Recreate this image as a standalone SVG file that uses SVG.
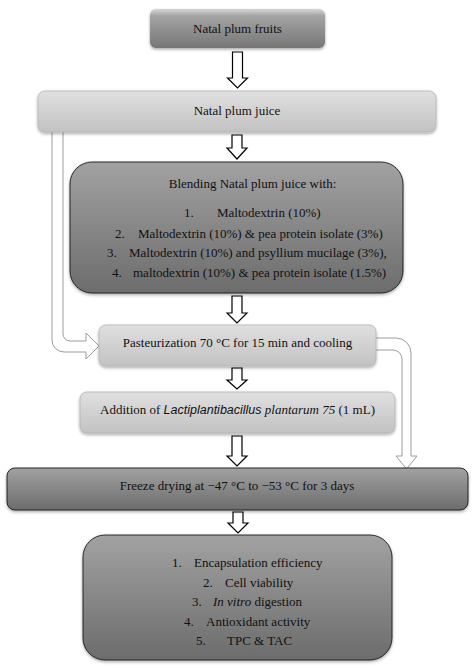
<svg xmlns="http://www.w3.org/2000/svg" width="474" height="668" viewBox="0 0 474 668">
<defs>
<linearGradient id="gTop" x1="0" y1="0" x2="0" y2="1">
<stop offset="0" stop-color="#d6d6d6"/><stop offset="0.18" stop-color="#a4a4a4"/><stop offset="1" stop-color="#767676"/>
</linearGradient>
<linearGradient id="gLight" x1="0" y1="0" x2="0" y2="1">
<stop offset="0" stop-color="#e0e0e0"/><stop offset="1" stop-color="#c2c2c2"/>
</linearGradient>
<linearGradient id="gDark" x1="0" y1="0" x2="0" y2="1">
<stop offset="0" stop-color="#a2a2a2"/><stop offset="1" stop-color="#6c6c6c"/>
</linearGradient>
<filter id="sh" x="-10%" y="-20%" width="120%" height="150%">
<feDropShadow dx="0" dy="1.5" stdDeviation="1.5" flood-color="#000" flood-opacity="0.35"/>
</filter>
</defs>
<style>
text{font-family:"Liberation Serif","Times New Roman",serif;font-size:13px;fill:#111}
.c{text-anchor:middle}
.light{fill:url(#gLight);stroke:#b4b4b4;stroke-width:0.8;filter:url(#sh)}
.dark{fill:url(#gDark);stroke:#1a1a1a;stroke-width:0.9;filter:url(#sh)}
.arr{fill:#fff;stroke:#000;stroke-width:1.2;stroke-linejoin:miter}
.side{fill:#fff;stroke:#9c9c9c;stroke-width:1}
.it{font-style:italic}
.sans{font-family:"Liberation Sans",Arial,sans-serif;font-style:italic;font-size:12.5px}
</style>

<g id="connectors">
<path class="side" d="M52,132 L52,340 A12,12 0 0 0 64,352 L86,352 L86,359 L99,346 L86,333 L86,341 L70,341 A7,7 0 0 1 63,334 L63,132"/>
<path class="side" d="M376,338 L396,338 A15,15 0 0 1 411,353 L411,456 L417,456 L406.5,469 L396,456 L402,456 L402,359 A9,9 0 0 0 393,350 L376,350"/>
<path class="arr" d="M232.5,52 H242.5 V78 H247.5 L237.5,88 L227.5,78 H232.5 Z"/>
<path class="arr" d="M232,135 H242 V148 H247 L237,159 L227,148 H232 Z"/>
<path class="arr" d="M232,296 H242 V313 H247 L237,323 L227,313 H232 Z"/>
<path class="arr" d="M232,368 H242 V380 H247 L237,389 L227,380 H232 Z"/>
<path class="arr" d="M232,436 H242 V456 H247 L237,466 L227,456 H232 Z"/>
<path class="arr" d="M233,512 H243 V523 H248 L238,533 L228,523 H233 Z"/>
</g>

<g id="n1">
<rect x="150" y="9" width="175" height="39" rx="6" fill="url(#gTop)" filter="url(#sh)"/>
<text class="c" x="237.5" y="33">Natal plum fruits</text>
</g>

<g id="n2">
<rect class="light" x="38" y="91" width="398" height="41" rx="7"/>
<text class="c" x="237" y="115">Natal plum juice</text>
</g>

<g id="n3">
<rect class="dark" x="70" y="162" width="333" height="131" rx="22"/>
<text class="c" x="252.5" y="188">Blending Natal plum juice with:</text>
<text x="184" y="217">1.</text><text x="217" y="217">Maltodextrin (10%)</text>
<text x="115" y="238">2.</text><text x="138" y="238">Maltodextrin (10%) &amp; pea protein isolate (3%)</text>
<text x="107" y="257">3.</text><text x="129" y="257">Maltodextrin (10%) and psyllium mucilage (3%),</text>
<text x="112" y="277">4.</text><text x="133" y="277">maltodextrin (10%) &amp; pea protein isolate (1.5%)</text>
</g>

<g id="n4">
<rect class="light" x="99" y="325" width="277" height="41" rx="7"/>
<text class="c" x="237.5" y="347">Pasteurization 70 °C for 15 min and cooling</text>
</g>

<g id="n5">
<rect class="light" x="80" y="392" width="315" height="41" rx="7"/>
<text class="c" x="237.5" y="414">Addition of <tspan class="sans">Lactiplantibacillus</tspan> <tspan class="it">plantarum 75</tspan> (1 mL)</text>
</g>

<g id="n6">
<rect class="dark" x="7" y="468" width="461" height="42" rx="8"/>
<text class="c" x="237" y="490">Freeze drying at −47 °C to −53 °C for 3 days</text>
</g>

<g id="n7">
<rect class="dark" x="83" y="535" width="309" height="125" rx="22"/>
<text x="172" y="567">1.</text><text x="194" y="567">Encapsulation efficiency</text>
<text x="203" y="587">2.</text><text x="225" y="587">Cell viability</text>
<text x="192" y="606">3.</text><text x="213" y="606"><tspan class="it">In vitro</tspan> digestion</text>
<text x="184" y="626">4.</text><text x="206" y="626">Antioxidant activity</text>
<text x="196" y="645">5.</text><text x="227" y="645">TPC &amp; TAC</text>
</g>
</svg>
